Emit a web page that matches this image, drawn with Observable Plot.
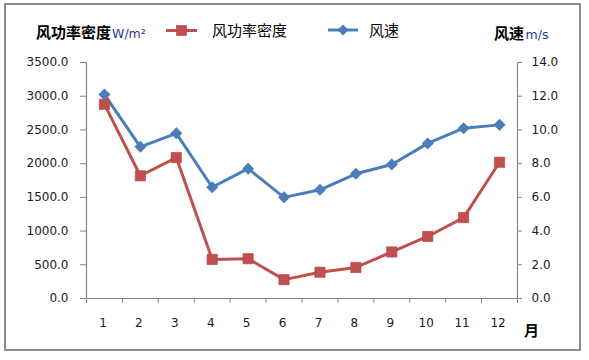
<!DOCTYPE html>
<html>
<head>
<meta charset="utf-8">
<script src="https://cdn.jsdelivr.net/npm/d3@7"></script>
<script src="https://cdn.jsdelivr.net/npm/@observablehq/plot@0.6"></script>
<style>
  html, body { margin: 0; padding: 0; background: #fff; }
  #chart { position: relative; width: 589px; height: 360px; }
</style>
</head>
<body>
<div id="chart"></div>
<script>
const months = [1, 2, 3, 4, 5, 6, 7, 8, 9, 10, 11, 12];
const powerDensity = [2880, 1820, 2090, 580, 590, 280, 390, 460, 690, 920, 1200, 2020];
const windSpeed = [12.1, 9.0, 9.8, 6.6, 7.7, 6.0, 6.45, 7.4, 7.95, 9.2, 10.1, 10.3];
const leftTicks = [0, 500, 1000, 1500, 2000, 2500, 3000, 3500];
const rightTicks = [0, 2, 4, 6, 8, 10, 12, 14];
const leftMax = 3500, rightMax = 14;
const k = leftMax / rightMax; // map wind speed onto left scale

const red = "#C0504D", blue = "#4A7EBB", axisGray = "#868686", textCol = "#1a1a1a";

const powerData = months.map((m, i) => ({month: m, v: powerDensity[i]}));
const windData = months.map((m, i) => ({month: m, v: windSpeed[i] * k}));
const boundaries = d3.range(0, months.length + 1).map(i => i + 0.5);

const plot = Plot.plot({
  width: 589,
  height: 360,
  marginLeft: 86,
  marginRight: 72,
  marginTop: 62,
  marginBottom: 62,
  style: {fontFamily: "DejaVu Sans, Verdana, sans-serif", fontSize: "12px", background: "transparent", color: textCol},
  x: {type: "linear", domain: [0.5, 12.5]},
  y: {domain: [0, leftMax]},
  marks: [
    Plot.axisY({ticks: leftTicks, tickFormat: d => d.toFixed(1), tickSize: 6, tickPadding: 12, label: null, stroke: axisGray, fill: textCol}),
    Plot.axisY({anchor: "right", ticks: rightTicks.map(d => d * k), tickFormat: d => (d / k).toFixed(1), tickSize: 4, tickPadding: 10, label: null, stroke: axisGray, fill: textCol}),
    Plot.axisX({ticks: months, tickSize: 0, tickPadding: 20, tickFormat: d => String(d), label: null, fill: textCol, dx: -1.5}),
    Plot.axisX({ticks: boundaries, tickSize: 5, tickFormat: () => "", label: null, stroke: axisGray}),
    Plot.ruleX([0.5], {stroke: axisGray, strokeWidth: 1.2}),
    Plot.ruleX([12.5], {stroke: axisGray, strokeWidth: 1.2}),
    Plot.ruleY([0], {stroke: axisGray, strokeWidth: 1.2}),
    Plot.line(windData, {x: "month", y: "v", stroke: blue, strokeWidth: 3}),
    Plot.dot(windData, {x: "month", y: "v", symbol: "diamond2", r: 5.2, fill: blue, stroke: blue, strokeWidth: 0.5}),
    Plot.line(powerData, {x: "month", y: "v", stroke: red, strokeWidth: 3}),
    Plot.dot(powerData, {x: "month", y: "v", symbol: "square", r: 5.8, fill: red, stroke: "#b3433f", strokeWidth: 0.6})
  ]
});

document.getElementById("chart").appendChild(plot);

const svg = d3.select(plot);
// outer frame
svg.insert("rect", ":first-child")
  .attr("x", 5).attr("y", 4).attr("width", 575).attr("height", 346)
  .attr("fill", "#fff").attr("stroke", "#8c8c8c").attr("stroke-width", 2);

const cjk = "'Noto Sans CJK SC', sans-serif";
// left axis title
const lt = svg.append("text").attr("x", 36).attr("y", 38).attr("text-anchor", "start").attr("font-family", cjk).attr("fill", "#000");
lt.append("tspan").attr("font-size", 15).attr("font-weight", "bold").text("风功率密度");
lt.append("tspan").attr("dx", 1).attr("font-size", 12.5).attr("font-family", "DejaVu Sans").attr("fill", "#1f3c88").text("W/m²");

// right axis title
const rt = svg.append("text").attr("x", 494).attr("y", 39).attr("text-anchor", "start").attr("font-family", cjk).attr("fill", "#000");
rt.append("tspan").attr("font-size", 15).attr("font-weight", "bold").text("风速");
rt.append("tspan").attr("dx", 1.5).attr("font-size", 12.5).attr("font-family", "DejaVu Sans").attr("fill", "#1f3c88").text("m/s");

// x axis unit
svg.append("text").attr("x", 524).attr("y", 336).attr("text-anchor", "start").attr("font-family", cjk).attr("font-size", 15)
  .attr("font-weight", "bold").attr("fill", "#000").text("月");

// legend
const lg = svg.append("g").attr("text-anchor", "start");
lg.append("line").attr("x1", 166).attr("x2", 197).attr("y1", 30.5).attr("y2", 30.5).attr("stroke", red).attr("stroke-width", 3);
lg.append("rect").attr("x", 176.5).attr("y", 25.5).attr("width", 10).attr("height", 10).attr("fill", red).attr("stroke", "#b3433f").attr("stroke-width", 0.6);
lg.append("text").attr("x", 212).attr("y", 36).attr("font-family", cjk).attr("font-size", 15).attr("fill", "#000").text("风功率密度");
lg.append("line").attr("x1", 328).attr("x2", 358).attr("y1", 30).attr("y2", 30).attr("stroke", blue).attr("stroke-width", 3);
lg.append("path").attr("d", "M343,24.5L348.5,30L343,35.5L337.5,30Z").attr("fill", blue);
lg.append("text").attr("x", 369).attr("y", 36).attr("font-family", cjk).attr("font-size", 15).attr("fill", "#000").text("风速");
</script>
</body>
</html>
